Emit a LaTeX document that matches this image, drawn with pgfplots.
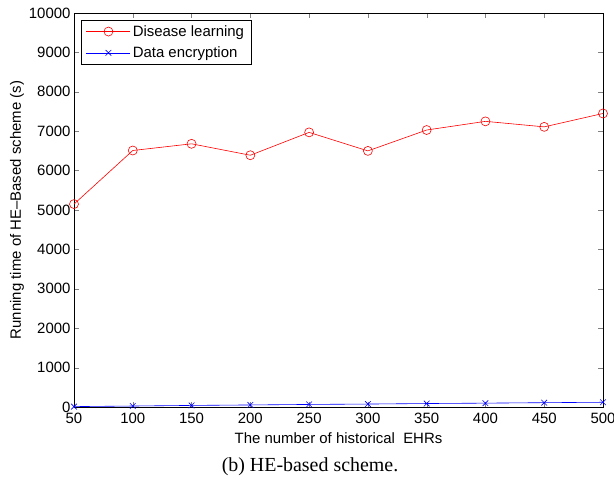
\documentclass[border=0pt]{standalone}
\usepackage{pgfplots}
\pgfplotsset{compat=1.18}
\usepackage{fontspec}
\setmainfont{Liberation Sans}
\newfontfamily\capfont{Liberation Serif}
\usetikzlibrary{calc}

\begin{document}
\begin{tikzpicture}
\begin{axis}[
  name=ax,
  scale only axis,
  width=529bp, height=394bp,
  xmin=50, xmax=500, ymin=0, ymax=10000,
  xtick={50,100,...,500},
  ytick={0,1000,...,10000},
  tick align=inside,
  tick pos=both,
  major tick length=5bp,
  scaled ticks=false,
  /pgf/number format/assume math mode=true,
  yticklabel style={/pgf/number format/fixed, /pgf/number format/1000 sep={}},
  xticklabel style={/pgf/number format/1000 sep={}, yshift=-3bp},
  ticklabel style={font=\fontsize{15}{17}\selectfont},
  label style={font=\fontsize{15}{17}\selectfont},
  xlabel={The number of historical\ \ EHRs},
  ylabel={Running time of HE\textendash Based scheme (s)},
  xlabel style={yshift=-2bp},
  ylabel style={yshift=-2bp},
  axis line style={line width=0.8pt},
  legend style={at={(0.013,0.982)}, anchor=north west, font=\fontsize{15}{17}\selectfont,
    draw=black, line width=0.6pt, inner xsep=5bp, inner ysep=3bp, row sep=5bp},
  legend cell align=left,
  legend image code/.code={\draw[mark repeat=2,mark phase=2] plot coordinates {(0bp,0bp) (22bp,0bp) (44bp,0bp)};},
]
\addplot[red, mark=o, mark size=4.5bp, line width=0.6pt] coordinates {
  (50,5150) (100,6510) (150,6680) (200,6390) (250,6970)
  (300,6500) (350,7030) (400,7250) (450,7110) (500,7450)};
\addplot[blue, mark=x, mark size=4bp, line width=0.6pt] coordinates {
  (50,10) (100,25) (150,40) (200,52) (250,65)
  (300,75) (350,88) (400,98) (450,110) (500,120)};
\legend{Disease learning, Data encryption}
\end{axis}
\node[font=\capfont\fontsize{20}{22}\selectfont] at ($(ax.south west)+(236bp,-60bp)$) {(b) HE-based scheme.};
\pgfresetboundingbox
\path[use as bounding box] ($(ax.south west)+(-74bp,-75bp)$) rectangle ($(ax.south west)+(540bp,407bp)$);
\end{tikzpicture}
\end{document}
